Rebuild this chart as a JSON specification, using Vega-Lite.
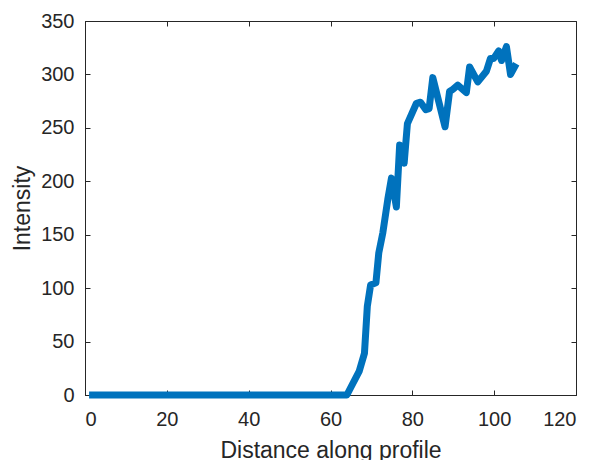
{
  "$schema": "https://vega.github.io/schema/vega-lite/v6.json",
  "width": 491,
  "height": 374,
  "autosize": "none",
  "padding": {"left": 85, "top": 21, "right": 18, "bottom": 65},
  "background": "white",
  "config": {
    "view": {"stroke": "#262626", "strokeWidth": 1},
    "font": "Liberation Sans",
    "axis": {
      "domainColor": "#262626",
      "tickColor": "#262626",
      "labelColor": "#262626",
      "titleColor": "#262626",
      "labelFont": "Liberation Sans",
      "titleFont": "Liberation Sans",
      "labelFontSize": 20,
      "titleFontSize": 23,
      "titleFontWeight": "normal",
      "grid": false,
      "tickSize": -5
    }
  },
  "data": {
    "values": [
      {"d": 1, "v": 0}, {"d": 2, "v": 0}, {"d": 3, "v": 0}, {"d": 4, "v": 0}, {"d": 5, "v": 0},
      {"d": 6, "v": 0}, {"d": 7, "v": 0}, {"d": 8, "v": 0}, {"d": 9, "v": 0}, {"d": 10, "v": 0},
      {"d": 11, "v": 0}, {"d": 12, "v": 0}, {"d": 13, "v": 0}, {"d": 14, "v": 0}, {"d": 15, "v": 0},
      {"d": 16, "v": 0}, {"d": 17, "v": 0}, {"d": 18, "v": 0}, {"d": 19, "v": 0}, {"d": 20, "v": 0},
      {"d": 21, "v": 0}, {"d": 22, "v": 0}, {"d": 23, "v": 0}, {"d": 24, "v": 0}, {"d": 25, "v": 0},
      {"d": 26, "v": 0}, {"d": 27, "v": 0}, {"d": 28, "v": 0}, {"d": 29, "v": 0}, {"d": 30, "v": 0},
      {"d": 31, "v": 0}, {"d": 32, "v": 0}, {"d": 33, "v": 0}, {"d": 34, "v": 0}, {"d": 35, "v": 0},
      {"d": 36, "v": 0}, {"d": 37, "v": 0}, {"d": 38, "v": 0}, {"d": 39, "v": 0}, {"d": 40, "v": 0},
      {"d": 41, "v": 0}, {"d": 42, "v": 0}, {"d": 43, "v": 0}, {"d": 44, "v": 0}, {"d": 45, "v": 0},
      {"d": 46, "v": 0}, {"d": 47, "v": 0}, {"d": 48, "v": 0}, {"d": 49, "v": 0}, {"d": 50, "v": 0},
      {"d": 51, "v": 0}, {"d": 52, "v": 0}, {"d": 53, "v": 0}, {"d": 54, "v": 0}, {"d": 55, "v": 0},
      {"d": 56, "v": 0}, {"d": 57, "v": 0}, {"d": 58, "v": 0}, {"d": 59, "v": 0}, {"d": 60, "v": 0},
      {"d": 61, "v": 0}, {"d": 62, "v": 0}, {"d": 63, "v": 0}, {"d": 64, "v": 0},
      {"d": 67, "v": 22},
      {"d": 68.3, "v": 39},
      {"d": 69, "v": 83},
      {"d": 69.8, "v": 103},
      {"d": 71.1, "v": 105},
      {"d": 71.8, "v": 133},
      {"d": 72.8, "v": 152},
      {"d": 74, "v": 183},
      {"d": 74.9, "v": 203},
      {"d": 76.1, "v": 176},
      {"d": 76.9, "v": 234},
      {"d": 78, "v": 217},
      {"d": 78.8, "v": 254},
      {"d": 81, "v": 273},
      {"d": 82, "v": 274},
      {"d": 83.3, "v": 267},
      {"d": 84.1, "v": 268},
      {"d": 85, "v": 297},
      {"d": 88, "v": 251},
      {"d": 89.1, "v": 284},
      {"d": 89.9, "v": 286},
      {"d": 91.1, "v": 290},
      {"d": 93.2, "v": 283},
      {"d": 94, "v": 307},
      {"d": 96, "v": 293},
      {"d": 98.1, "v": 303},
      {"d": 99.1, "v": 315},
      {"d": 99.9, "v": 315},
      {"d": 101.1, "v": 322},
      {"d": 101.8, "v": 313},
      {"d": 103, "v": 326},
      {"d": 104, "v": 300},
      {"d": 105.4, "v": 310}
    ]
  },
  "layer": [
    {
      "mark": {"type": "line", "color": "#0072BD", "strokeWidth": 7, "strokeJoin": "round", "strokeCap": "butt"},
      "encoding": {
        "x": {
          "field": "d", "type": "quantitative",
          "scale": {"domain": [0, 120], "nice": false, "zero": false},
          "axis": {"values": [0, 20, 40, 60, 80, 100, 120], "title": "Distance along profile", "titlePadding": 10, "labelPadding": 19},
          "sort": null
        },
        "y": {
          "field": "v", "type": "quantitative",
          "scale": {"domain": [0, 350], "nice": false},
          "axis": {"values": [0, 50, 100, 150, 200, 250, 300, 350], "title": "Intensity", "titlePadding": 6, "labelPadding": 16}
        },
        "order": {"field": "d"}
      }
    },
    {
      "mark": {"type": "point", "opacity": 0},
      "encoding": {
        "x": {
          "field": "d", "type": "quantitative",
          "axis": {"orient": "top", "values": [0, 20, 40, 60, 80, 100, 120], "labels": false, "title": null, "domain": false}
        },
        "y": {
          "field": "v", "type": "quantitative",
          "axis": {"orient": "right", "values": [0, 50, 100, 150, 200, 250, 300, 350], "labels": false, "title": null, "domain": false}
        }
      }
    }
  ],
  "resolve": {"axis": {"x": "independent", "y": "independent"}}
}
